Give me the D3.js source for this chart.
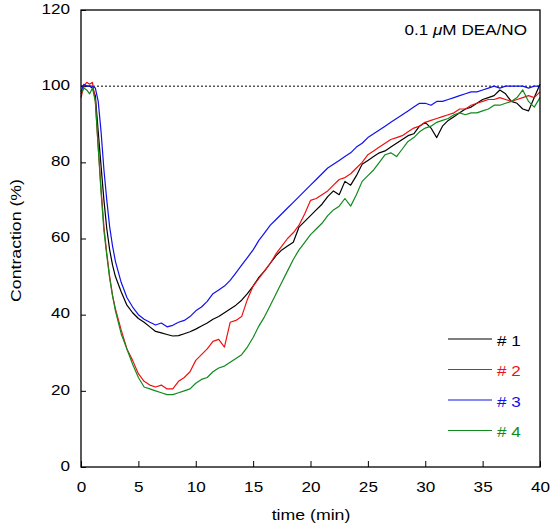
<!DOCTYPE html>
<html lang="en">
<head>
<meta charset="UTF-8">
<title>Contraction</title>
<script src="https://d3js.org/d3.v7.min.js"></script>
<style>
  body { margin: 0; background: #fff; }
  text { font-family: "Liberation Sans", Arial, Helvetica, sans-serif; }
</style>
</head>
<body>
<div id="chart"></div>
<script>

// time points (min)
const times = [0, 0.25, 0.5, 0.75, 1, 1.25, 1.5, 1.75, 2, 2.25, 2.5, 2.75, 3,
  3.5, 4, 4.5, 5, 5.5, 6, 6.5, 7, 7.5, 8, 8.5, 9, 9.5, 10, 10.5, 11, 11.5, 12,
  12.5, 13, 13.5, 14, 14.5, 15, 15.5, 16, 16.5, 17, 17.5, 18, 18.5, 19, 19.5, 20,
  20.5, 21, 21.5, 22, 22.5, 23, 23.5, 24, 24.5, 25, 25.5, 26, 26.5, 27, 27.5, 28,
  28.5, 29, 29.5, 30, 30.5, 31, 31.5, 32, 32.5, 33, 33.5, 34, 34.5, 35, 35.5, 36,
  36.5, 37, 37.5, 38, 38.5, 39, 39.5, 40];

const run1 = [100, 100, 100, 100, 99.5, 97.5, 88, 79, 70, 62.5, 57, 53, 50,
  46, 42.5, 40.5, 39, 38, 36.8, 35.6, 35.2, 34.8, 34.4, 34.5, 35, 35.5, 36.2,
  37, 37.8, 38.8, 39.5, 40.5, 41.5, 42.5, 43.8, 45.5, 47.5, 49.8, 51.5, 53.5,
  55.5, 57, 58, 59, 63, 64.5, 66, 67.5, 69, 71, 72.5, 71.5, 75, 74, 76.5, 79.5,
  80.5, 81.5, 82.5, 83, 84, 85, 86, 87, 87.5, 89.5, 90.5, 89, 86.5, 89.5, 91,
  92, 93, 94, 94.5, 95.5, 96.5, 97, 97.5, 99, 98, 96, 95.5, 94, 93.5, 97, 100.5];

const run2 = [97, 100, 101, 100.5, 101, 96, 84, 73, 63, 56, 50, 45, 41.5,
  36, 31, 28, 24.5, 22.5, 21.5, 21, 21.5, 20.5, 20.5, 22.5, 23.5, 25, 28,
  29.5, 31, 33, 33.5, 31.5, 38, 38.5, 39.5, 44, 47.5, 49.5, 51.5, 53.5,
  56, 58, 60, 61.5, 63.5, 66.5, 70, 70.5, 71.5, 72.5, 74, 75.5, 76, 77, 78.5, 80,
  82, 83, 84, 85, 86, 86.5, 87, 88, 89, 89.5, 90.5, 91, 91.5, 92, 92.5,
  93, 94, 94, 95, 95.5, 96, 96.5, 96.5, 97, 96.5, 96, 96.5, 97, 97.5, 97, 98.5];

const run3 = [98.5, 100.5, 100, 100, 100, 99.5, 96, 88, 78, 70, 63, 58, 54,
  48.5, 44.5, 42, 40, 38.8, 38, 37.3, 37.8, 36.8, 37.2, 38, 38.5, 39.5, 41,
  42, 43.5, 45.5, 46.5, 47.5, 49, 51, 53, 55, 57, 59.5, 61.5, 63.5,
  65, 66.5, 68, 69.5, 71, 72.5, 74, 75.5, 77, 78.5, 79.5, 80.5, 81.5, 82.5, 84, 85,
  86.5, 87.5, 88.5, 89.5, 90.5, 91.5, 92.5, 93.5, 94.5, 95.5, 95.5, 95, 96, 96, 96.5,
  97, 97.5, 98, 98.5, 98.5, 99, 99.5, 100, 99.5, 100, 100, 100, 100, 99.5, 100, 100];

const run4 = [98, 99.5, 99, 98, 99.5, 96, 84, 72, 62, 55.5, 49.5, 45, 41,
  35, 31, 27, 23.5, 21, 20.5, 20, 19.5, 19, 19, 19.5, 20, 20.5, 22,
  23, 23.5, 25, 26, 26.5, 27.5, 28.5, 29.5, 31.5, 34, 37, 39.5, 42.5,
  45.5, 48.5, 51.5, 54.5, 57, 59, 61, 62.5, 64, 66, 67.5, 68.5, 70.5, 68.5, 71.5, 75,
  76.5, 78, 80, 82, 82.5, 81.5, 83.5, 85.5, 86.5, 88, 89, 89.5, 90.5, 91, 91.5,
  92.5, 93, 92.5, 93, 93, 93.5, 94, 95, 95, 95.5, 96, 97, 99, 96, 94.5, 97];

const seriesNames = ["# 1", "# 2", "# 3", "# 4"];
const seriesColors = ["#000000", "#ee1111", "#1111ee", "#118a1e"];
const seriesValues = [run1, run2, run3, run4];

const xTicks = [0, 5, 10, 15, 20, 25, 30, 35, 40];
const yTicks = [0, 20, 40, 60, 80, 100, 120];
const baseline = 100;

const W = 551, H = 527;
const margin = { top: 10, right: 11, bottom: 60, left: 81 },
  width = W - margin.left - margin.right,
  height = H - margin.top - margin.bottom;

const svg = d3.select("#chart")
  .append("svg")
  .attr("width", W)
  .attr("height", H);

const g = svg.append("g")
  .attr("transform", `translate(${margin.left},${margin.top})`);

const x = d3.scaleLinear().domain([0, 40]).range([0, width]);
const y = d3.scaleLinear().domain([0, 120]).range([height, 0]);

// axes, ticks pointing inward
const xAxis = g.append("g")
  .attr("transform", `translate(0,${height})`)
  .call(d3.axisBottom(x).tickValues(xTicks).tickSize(-6).tickPadding(15));
const yAxis = g.append("g")
  .call(d3.axisLeft(y).tickValues(yTicks).tickSize(-5).tickPadding(11));

[xAxis, yAxis].forEach(a => {
  a.select(".domain").remove();
  a.selectAll(".tick line").attr("stroke", "#000").attr("stroke-width", 1);
  a.selectAll(".tick text")
    .attr("fill", "#000")
    .style("font-size", "14.5px")
    .style("font-family", "'Liberation Sans', Arial, sans-serif");
});
yAxis.selectAll(".tick text").attr("dy", "0.22em");

// dotted 100% reference
g.append("line")
  .attr("x1", x(0)).attr("x2", x(40))
  .attr("y1", y(baseline)).attr("y2", y(baseline))
  .attr("stroke", "#000")
  .attr("stroke-width", 1)
  .attr("stroke-dasharray", "2,2");

const line = d3.line()
  .x((d, i) => x(times[i]))
  .y(d => y(d));

seriesValues.forEach((vals, k) => {
  g.append("path")
    .datum(vals)
    .attr("fill", "none")
    .attr("stroke", seriesColors[k])
    .attr("stroke-width", 1.2)
    .attr("stroke-linejoin", "round")
    .attr("d", line);
});

// frame
g.append("rect")
  .attr("width", width)
  .attr("height", height)
  .attr("fill", "none")
  .attr("stroke", "#000")
  .attr("stroke-width", 1.3);

// legend
const legend = g.append("g")
  .attr("transform", `translate(${width - 92},${329})`);
seriesNames.forEach((name, k) => {
  const row = legend.append("g").attr("transform", `translate(0,${k * 30.5})`);
  row.append("line")
    .attr("x1", 0).attr("x2", 44)
    .attr("y1", 0).attr("y2", 0)
    .attr("stroke", seriesColors[k])
    .attr("stroke-width", 1.2);
  row.append("text")
    .attr("x", 49)
    .attr("y", 6.5)
    .attr("fill", seriesColors[k])
    .style("font-size", "14.5px")
    .text(name);
});

// annotation
const note = g.append("text")
  .attr("x", width - 13)
  .attr("y", 25)
  .attr("text-anchor", "end")
  .style("font-size", "14.5px")
  .attr("fill", "#000");
note.append("tspan").text("0.1 ");
note.append("tspan").style("font-style", "italic").text("μ");
note.append("tspan").text("M DEA/NO");

// axis titles
svg.append("text")
  .attr("x", margin.left + width / 2 + 0.5)
  .attr("y", 520)
  .attr("text-anchor", "middle")
  .style("font-size", "15px")
  .text("time (min)");

svg.append("text")
  .attr("transform", `translate(21,${margin.top + height / 2 + 2}) rotate(-90)`)
  .attr("text-anchor", "middle")
  .style("font-size", "15px")
  .text("Contraction (%)");

// the original lettering is a wider face: widen every label a little
svg.selectAll("text").each(function () {
  const len = this.getComputedTextLength();
  d3.select(this)
    .attr("textLength", len * 1.18)
    .attr("lengthAdjust", "spacingAndGlyphs");
});

</script>
</body>
</html>
